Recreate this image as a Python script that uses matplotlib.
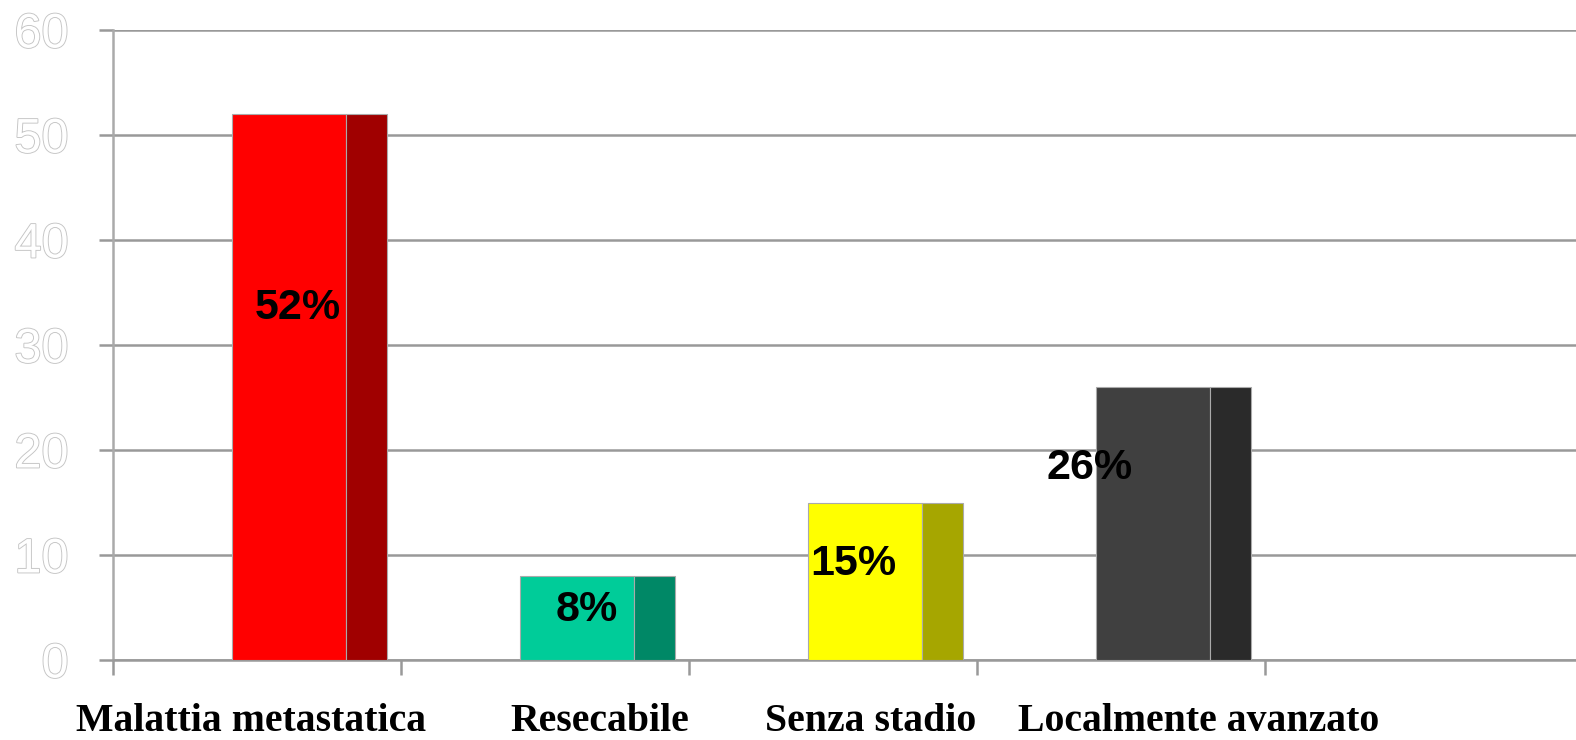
import numpy as np
import matplotlib
matplotlib.use("Agg")
import matplotlib.pyplot as plt
import matplotlib.patheffects as pe

categories = ["Malattia metastatica", "Resecabile", "Senza stadio", "Localmente avanzato"]
values = [52, 8, 15, 26]
front_colors = ["#ff0000", "#00cc99", "#ffff00", "#404040"]
side_colors = ["#a00000", "#008866", "#a6a600", "#2a2a2a"]
yticks = [0, 10, 20, 30, 40, 50, 60]

# layout tweaks (category units)
label_dx = [-0.02, 0.19, 0.13, 0.27]
pct_dx = [0.03, 0.035, -0.04, -0.22]
pct_frac = [0.645, 0.60, 0.61, 0.705]

fig = plt.figure(figsize=(15.76, 7.4), dpi=100)
ax = fig.add_axes([113/1576, 80/740, (1576-113)/1576, 630/740])

x = np.arange(len(categories))
front_w, side_w = 0.396, 0.142
ax.bar(x + 0.413, values, width=front_w, align="edge", color=front_colors,
       edgecolor="#aaaaaa", linewidth=0.8, zorder=3)
ax.bar(x + 0.413 + front_w, values, width=side_w, align="edge", color=side_colors,
       edgecolor="#aaaaaa", linewidth=0.8, zorder=3)

for i, v in enumerate(values):
    ax.text(x[i] + 0.413 + front_w/2 + pct_dx[i], v*pct_frac[i], f"{v}%",
            ha="center", va="center", fontsize=31, fontweight="bold",
            family="Liberation Sans", color="black", zorder=4)
    ax.text(x[i] + 0.5 + label_dx[i], -0.112, categories[i],
            transform=ax.get_xaxis_transform(), ha="center", va="baseline",
            fontsize=28.6, fontweight="bold", family="Liberation Serif", color="black")

ax.set_xlim(0, 5.08)
ax.set_ylim(0, 60)
ax.set_yticks(yticks)
ax.set_xticks(np.arange(len(categories) + 1))
ax.set_xticklabels([])
ax.yaxis.grid(True, color="#999999", linewidth=1.8, zorder=0)
ax.set_axisbelow(True)

for s in ["top", "right"]:
    ax.spines[s].set_visible(False)
ax.spines["left"].set_color("#aaaaaa")
ax.spines["left"].set_linewidth(1.8)
ax.spines["bottom"].set_color("#999999")
ax.spines["bottom"].set_linewidth(1.8)

ax.tick_params(axis="y", length=10, width=1.8, color="#999999", pad=22)
ax.tick_params(axis="x", length=11, width=1.8, color="#999999")
for lab in ax.get_yticklabels():
    lab.set_fontsize(35)
    lab.set_family("Liberation Sans")
    lab.set_color("white")
    lab.set_path_effects([pe.withStroke(linewidth=1.3, foreground="#c4c4c4")])

fig.savefig("out.png", dpi=100)
